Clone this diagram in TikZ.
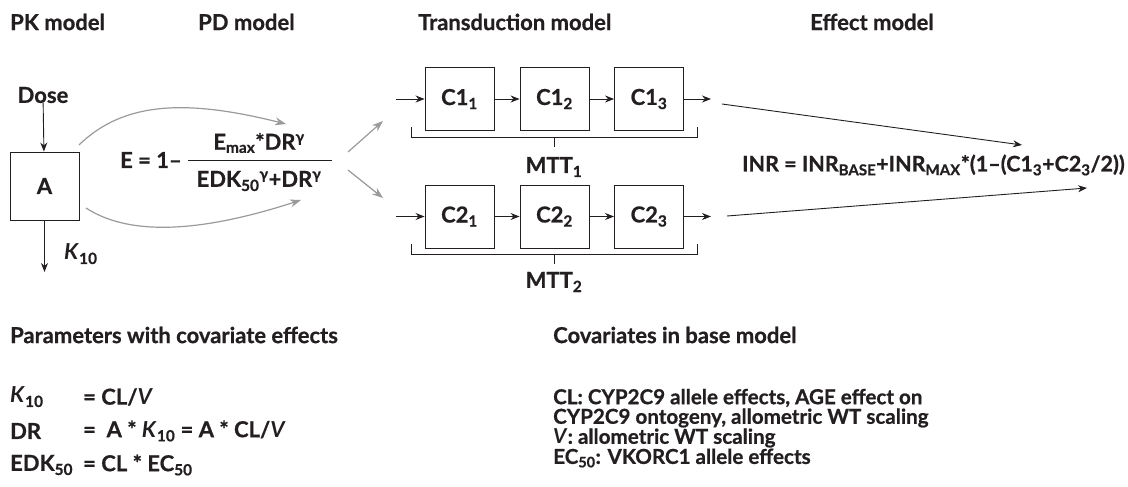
\documentclass[tikz,border=0pt]{standalone}
\usepackage{fontspec}
\setmainfont{Lato}[BoldFeatures={FakeBold=0.7}]
\usetikzlibrary{arrows.meta}
\definecolor{ink}{HTML}{231F20}
\definecolor{gline}{HTML}{9A9A9A}
\newcommand\lo[1]{\textsubscript{#1}}
\newcommand\hi[1]{\textsuperscript{#1}}
\tikzset{
  txt/.style={font=\fontsize{22}{26}\selectfont\bfseries, text=ink, inner sep=0pt},
  ltxt/.style={txt, anchor=west},
  covtxt/.style={ltxt, font=\fontsize{20.6}{22}\selectfont\bfseries},
  inrtxt/.style={ltxt, font=\fontsize{21.5}{24}\selectfont\bfseries},
  cbox/.style={draw=ink, line width=0.9pt, minimum width=69pt, minimum height=63pt, txt},
  arr/.style={draw=ink, line width=0.9pt, -{Stealth[length=9pt,width=7pt]}},
  garr/.style={draw=gline, line width=1.2pt, -{Stealth[length=11pt,width=8pt]}},
  plain/.style={draw=ink, line width=0.9pt}
}
\begin{document}
\begin{tikzpicture}[x=1pt,y=-1pt]
\path[use as bounding box] (0,0) rectangle (1128,487);
% titles
\node[ltxt] (t1) at (10,22) {PK model};
\node[ltxt] (t2) at (198,22) {PD model};
\node[ltxt] (t3) at (418,22) {Transduction model};
\node[ltxt] (t4) at (810,22) {Effect model};
% PK
\node[txt] (dose) at (43,95) {Dose};
\node[cbox, minimum height=68pt] (A) at (44.5,186) {A};
\coordinate (kend) at (44.5,272);
\node[ltxt] (k10) at (64,254) {\textit{K}\lo{10}};
\draw[arr] (dose) -- (A);
\draw[arr] (A) -- (kend);
% PD formula
\node[ltxt] (E) at (120,160) {E = 1–};
\node[txt] (num) at (259,143) {E\lo{max}*DR\hi{γ}};
\node[txt] (den) at (259,181) {EDK\lo{50}\hi{γ}+DR\hi{γ}};
\coordinate (fa) at (188,160);
\coordinate (fb) at (332,160);
\draw[plain, line width=1pt] (fa) -- (fb);
% gray curves
\coordinate (u1) at (79,145);
\coordinate (u2) at (286,124);
\coordinate (l1) at (86,208);
\coordinate (l2) at (301,200);
\draw[garr] (u1) .. controls (125,100) and (190,100) .. (u2);
\draw[garr] (l1) .. controls (135,240) and (215,228) .. (l2);
\coordinate (g1) at (348,152);
\coordinate (g2) at (383,121);
\coordinate (g3) at (348,170);
\coordinate (g4) at (383,198);
\draw[garr] (g1) -- (g2);
\draw[garr] (g3) -- (g4);
% transduction top
\node[cbox] (c11) at (459.5,99) {C1\lo{1}};
\node[cbox] (c12) at (554.5,99) {C1\lo{2}};
\node[cbox] (c13) at (649,99) {C1\lo{3}};
\coordinate (in1) at (396,99);
\coordinate (out1) at (711,99);
\draw[arr] (in1) -- (c11);
\draw[arr] (c11) -- (c12);
\draw[arr] (c12) -- (c13);
\draw[arr] (c13) -- (out1);
\draw[plain] (411,127) -- (411,137) -- (697,137) -- (697,127);
\draw[plain] (554,137) -- (554,147);
\node[txt] (mtt1) at (554,167) {MTT\lo{1}};
% transduction bottom
\node[cbox] (c21) at (459.5,216.5) {C2\lo{1}};
\node[cbox] (c22) at (554.5,216.5) {C2\lo{2}};
\node[cbox] (c23) at (649,216.5) {C2\lo{3}};
\coordinate (in2) at (396,216.5);
\coordinate (out2) at (711,216.5);
\draw[arr] (in2) -- (c21);
\draw[arr] (c21) -- (c22);
\draw[arr] (c22) -- (c23);
\draw[arr] (c23) -- (out2);
\draw[plain] (411,244) -- (411,254) -- (697,254) -- (697,244);
\draw[plain] (554,254) -- (554,264);
\node[txt] (mtt2) at (554,282) {MTT\lo{2}};
% effect
\coordinate (e1) at (722,104);
\coordinate (e2) at (1022,145);
\coordinate (e3) at (727,216);
\coordinate (e4) at (1087,188);
\draw[arr] (e1) -- (e2);
\draw[arr] (e3) -- (e4);
\node[inrtxt] (inr) at (742,165) {INR = INR\lo{BASE}+INR\lo{MAX}*(1–(C1\lo{3}+C2\lo{3}/2))};
% parameters
\node[ltxt] (ph) at (10,335) {Parameters with covariate effects};
\node[ltxt] (p1a) at (10,397) {\textit{K}\lo{10}};
\node[ltxt] (p1b) at (83,397) {= CL/\textit{V}};
\node[ltxt] (p2a) at (10,431) {DR};
\node[ltxt] (p2b) at (83,431) {= \ A * \textit{K}\lo{10} = A * CL/\textit{V}};
\node[ltxt] (p3a) at (10,465) {EDK\lo{50}};
\node[ltxt] (p3b) at (83,465) {= CL * EC\lo{50}};
% covariates
\node[ltxt] (ch) at (553,335) {Covariates in base model};
\node[covtxt] (c1) at (553,398) {CL: CYP2C9 allele effects, AGE effect on};
\node[covtxt] (c2) at (553,418) {CYP2C9 ontogeny, allometric WT scaling};
\node[covtxt] (c3) at (553,438) {\textit{V}: allometric WT scaling};
\node[covtxt] (c4) at (553,458) {EC\lo{50}: VKORC1 allele effects};
\end{tikzpicture}
\end{document}
